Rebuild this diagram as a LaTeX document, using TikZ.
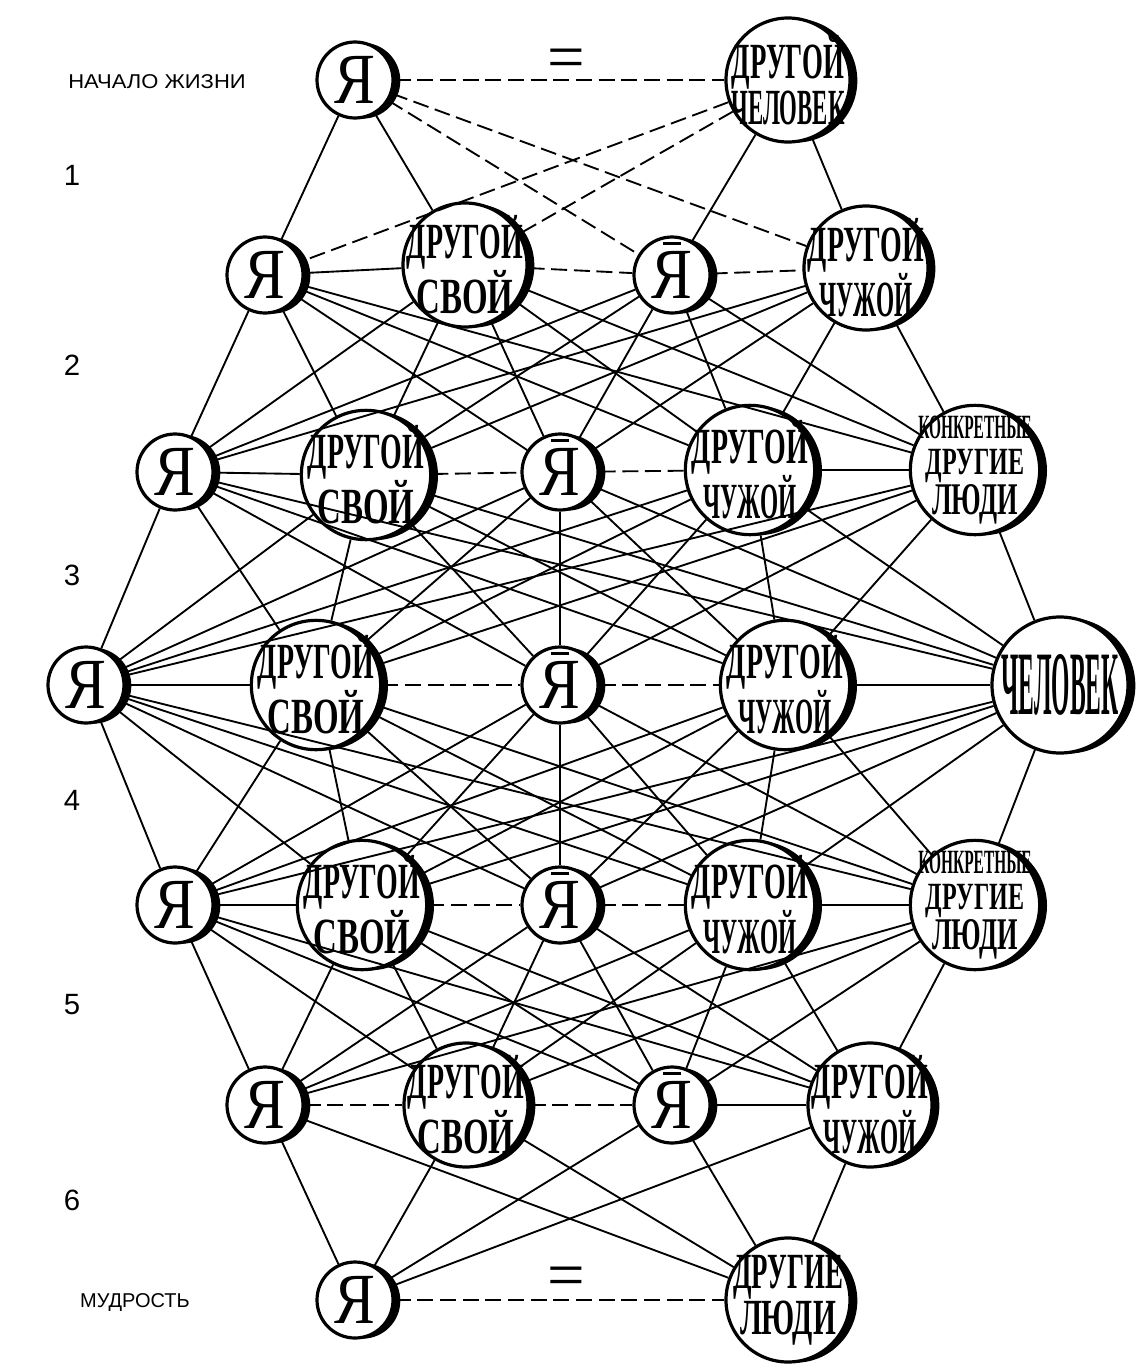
\documentclass[tikz,border=0pt]{standalone}
\usepackage{fontspec}
\setmainfont{Liberation Serif}
\newfontfamily\labfont{Liberation Sans}
\usepackage{graphicx}
\usetikzlibrary{shadows}
\newcommand{\cnd}[2]{\scalebox{#1}[1]{#2}}
\newcommand{\ybar}{\ooalign{\cnd{0.85}{Я}\cr\hidewidth\raisebox{0.74em}{\rule{0.24em}{0.045em}}\hidewidth\cr}}

\tikzset{
  ya/.style={circle, draw, line width=2.4pt, fill=white, minimum size=57pt, inner sep=0pt,
    font=\fontsize{54}{54}\selectfont,
    drop shadow={shadow xshift=5.5pt, shadow yshift=-0.5pt, fill=black, opacity=1}},
  drug/.style={ya, minimum size=93pt},
  drugb/.style={ya, minimum size=97pt},
  txt/.style={align=center, inner sep=0pt, font=\bfseries\fontsize{38}{32}\selectfont},
  kdl/.style={align=center, inner sep=0pt, font=\bfseries\fontsize{34}{27}\selectfont},
  rowlab/.style={font=\labfont\fontsize{22}{22}\selectfont},
  endlab/.style={font=\labfont\fontsize{15}{15}\selectfont},
  eqs/.style={font=\fontsize{50}{50}\selectfont, inner sep=0pt},
  edge/.style={line width=1.4pt},
  brk/.style={edge, dash pattern=on 12pt off 5pt}
}

\begin{document}
\begin{tikzpicture}[x=0.75pt,y=0.75pt,yscale=-1,xscale=1]
    \useasboundingbox (0,0) rectangle (1147,1367);

    %Row labels
    \node[endlab] (start) at (157,82) {\cnd{1.1}{НАЧАЛО ЖИЗНИ}};
    \node[rowlab] (n1) at (72,175) {1};
    \node[rowlab] (n2) at (72,365) {2};
    \node[rowlab] (n3) at (72,575) {3};
    \node[rowlab] (n4) at (72,800) {4};
    \node[rowlab] (n5) at (72,1005) {5};
    \node[rowlab] (n6) at (72,1200) {6};
    \node[endlab] (wise) at (135,1302) {МУДРОСТЬ};

    %Row 0
    \node[ya] (r0a) at (355,80) {\cnd{0.85}{Я}};
    \node[drug, label={[txt]center:{\cnd{0.53}{ДРУГОЙ}\\\cnd{0.45}{ЧЕЛОВЕК}}}] (r0b) at (788,80) {};
    \node[eqs] (eq0) at (566,64) {=};

    %Row 1
    \node[ya] (r1a) at (265,275) {\cnd{0.85}{Я}};
    \node[drug, label={[txt]center:{\cnd{0.55}{ДРУГОЙ}\\\cnd{0.65}{СВОЙ}}}] (r1b) at (465,265) {};
    \node[ya] (r1c) at (672,275) {\ybar};
    \node[drug, label={[txt]center:{\cnd{0.55}{ДРУГОЙ}\\\cnd{0.46}{ЧУЖОЙ}}}] (r1d) at (866,268) {};

    %Row 2
    \node[ya] (r2a) at (175,472) {\cnd{0.85}{Я}};
    \node[drugb, label={[txt]center:{\cnd{0.55}{ДРУГОЙ}\\\cnd{0.65}{СВОЙ}}}] (r2b) at (366,475) {};
    \node[ya] (r2c) at (560,472) {\ybar};
    \node[drugb, label={[txt]center:{\cnd{0.55}{ДРУГОЙ}\\\cnd{0.46}{ЧУЖОЙ}}}] (r2d) at (750,470) {};
    \node[drugb, label={[kdl]center:{\scalebox{0.34}[0.75]{КОНКРЕТНЫЕ}\\\scalebox{0.53}[0.85]{ДРУГИЕ}\\\scalebox{0.58}[1.0]{ЛЮДИ}}}] (r2e) at (975,470) {};

    %Row 3
    \node[ya] (r3a) at (86,685) {\cnd{0.85}{Я}};
    \node[drugb, label={[txt]center:{\cnd{0.55}{ДРУГОЙ}\\\cnd{0.65}{СВОЙ}}}] (r3b) at (316,685) {};
    \node[ya] (r3c) at (560,685) {\ybar};
    \node[drugb, label={[txt]center:{\cnd{0.55}{ДРУГОЙ}\\\cnd{0.46}{ЧУЖОЙ}}}] (r3d) at (785,685) {};
    \node[ya, minimum size=102pt, label={[txt]center:{\fontsize{68}{68}\selectfont\cnd{0.26}{ЧЕЛОВЕК}}}] (r3e) at (1060,685) {};

    %Row 4
    \node[ya] (r4a) at (175,905) {\cnd{0.85}{Я}};
    \node[drugb, label={[txt]center:{\cnd{0.55}{ДРУГОЙ}\\\cnd{0.65}{СВОЙ}}}] (r4b) at (362,905) {};
    \node[ya] (r4c) at (560,905) {\ybar};
    \node[drugb, label={[txt]center:{\cnd{0.55}{ДРУГОЙ}\\\cnd{0.46}{ЧУЖОЙ}}}] (r4d) at (750,905) {};
    \node[drugb, label={[kdl]center:{\scalebox{0.34}[0.75]{КОНКРЕТНЫЕ}\\\scalebox{0.53}[0.85]{ДРУГИЕ}\\\scalebox{0.58}[1.0]{ЛЮДИ}}}] (r4e) at (975,905) {};

    %Row 5
    \node[ya] (r5a) at (265,1105) {\cnd{0.85}{Я}};
    \node[drug, label={[txt]center:{\cnd{0.55}{ДРУГОЙ}\\\cnd{0.65}{СВОЙ}}}] (r5b) at (466,1105) {};
    \node[ya] (r5c) at (672,1105) {\ybar};
    \node[drug, label={[txt]center:{\cnd{0.55}{ДРУГОЙ}\\\cnd{0.46}{ЧУЖОЙ}}}] (r5d) at (870,1105) {};

    %Row 6
    \node[ya] (r6a) at (355,1300) {\cnd{0.85}{Я}};
    \node[drug, label={[txt]center:{\cnd{0.53}{ДРУГИЕ}\\\cnd{0.58}{ЛЮДИ}}}] (r6b) at (788,1300) {};
    \node[eqs] (eq6) at (566,1282) {=};

    %Straight Lines between rows
    \draw[edge] (r0a) -- (r1a);
    \draw[edge] (r0a) -- (r1b);
    \draw[brk] (r0a) -- (r1c);
    \draw[brk] (r0a) -- (r1d);
    \draw[brk] (r0b) -- (r1a);
    \draw[brk] (r0b) -- (r1b);
    \draw[edge] (r0b) -- (r1c);
    \draw[edge] (r0b) -- (r1d);
    \foreach \u in {r1a,r1b,r1c,r1d}
      \foreach \v in {r2a,r2b,r2c,r2d,r2e}
        \draw[edge] (\u) -- (\v);
    \foreach \u in {r2a,r2b,r2c,r2d,r2e}
      \foreach \v in {r3a,r3b,r3c,r3d,r3e}
        \draw[edge] (\u) -- (\v);
    \foreach \u in {r3a,r3b,r3c,r3d,r3e}
      \foreach \v in {r4a,r4b,r4c,r4d,r4e}
        \draw[edge] (\u) -- (\v);
    \foreach \u in {r4a,r4b,r4c,r4d,r4e}
      \foreach \v in {r5a,r5b,r5c,r5d}
        \draw[edge] (\u) -- (\v);
    \foreach \u in {r5a,r5b,r5c,r5d}
      \foreach \v in {r6a,r6b}
        \draw[edge] (\u) -- (\v);

    %Straight Lines within rows
    \draw[brk] (r0a) -- (r0b);
    \draw[edge] (r1a) -- (r1b);
    \draw[brk] (r1b) -- (r1c);
    \draw[brk] (r1c) -- (r1d);
    \draw[edge] (r2a) -- (r2b);
    \draw[brk] (r2b) -- (r2c);
    \draw[brk] (r2c) -- (r2d);
    \draw[edge] (r2d) -- (r2e);
    \draw[edge] (r3a) -- (r3b);
    \draw[brk] (r3b) -- (r3c);
    \draw[brk] (r3c) -- (r3d);
    \draw[edge] (r3d) -- (r3e);
    \draw[edge] (r4a) -- (r4b);
    \draw[brk] (r4b) -- (r4c);
    \draw[brk] (r4c) -- (r4d);
    \draw[edge] (r4d) -- (r4e);
    \draw[brk] (r5a) -- (r5b);
    \draw[brk] (r5b) -- (r5c);
    \draw[edge] (r5c) -- (r5d);
    \draw[brk] (r6a) -- (r6b);

\end{tikzpicture}
\end{document}
